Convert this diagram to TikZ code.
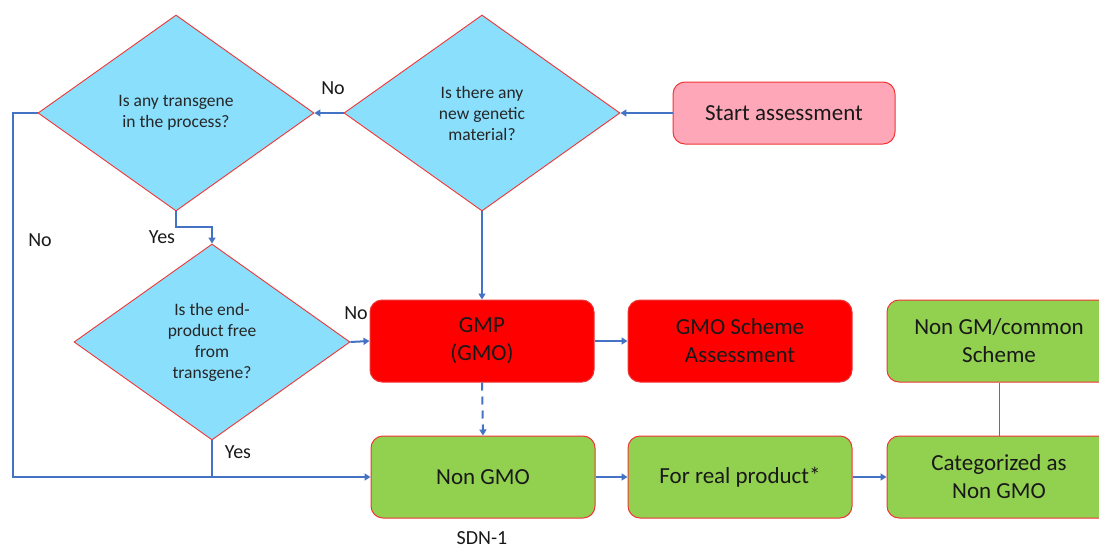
\documentclass[tikz,border=0pt]{standalone}
\usepackage{fontspec}
\setmainfont{Carlito}
\usetikzlibrary{shapes.geometric,arrows.meta}

\definecolor{qblue}{HTML}{8ADFFD}
\definecolor{startpink}{HTML}{FDA7B8}
\definecolor{gmored}{HTML}{FF0000}
\definecolor{safegreen}{HTML}{92D050}
\definecolor{linkblue}{HTML}{4472C4}
\definecolor{edgered}{HTML}{F03535}

\tikzset{
  question/.style={diamond, draw=edgered, line width=0.9pt, fill=qblue,
    minimum width=276pt, minimum height=196pt, inner sep=0pt, align=center,
    font=\fontsize{17.5}{21}\selectfont, text=black!85},
  box/.style={rectangle, rounded corners=12pt, draw=edgered, line width=1pt,
    minimum width=224pt, minimum height=82pt, inner sep=2pt, align=center,
    font=\fontsize{23}{28}\selectfont, text=black!90},
  startbox/.style={box, fill=startpink, minimum width=222pt, minimum height=62pt},
  gmobox/.style={box, fill=gmored},
  okbox/.style={box, fill=safegreen},
  link/.style={draw=linkblue, line width=2pt},
  arr/.style={link, -{Triangle[length=6pt,width=7pt]}},
  tag/.style={font=\fontsize{20}{24}\selectfont, text=black!90, inner sep=0pt},
}

\begin{document}
\begin{tikzpicture}[x=1pt, y=-1pt]
  \useasboundingbox (0,0) rectangle (1099,549);
  \clip (0,0) rectangle (1099,549);

  % decision diamonds
  \node[question] (d1) at (176,113) {Is any transgene\\in the process?};
  \node[question] (d2) at (482,113) {Is there any\\new genetic\\material?};
  \node[question] (d3) at (212,342) {Is the end-\\product free\\from\\transgene?};

  % boxes
  \node[startbox] (start) at (784,113) {Start assessment};
  \node[gmobox] (gmp) at (482,341) {GMP\\(GMO)};
  \node[gmobox] (scheme) at (740,341) {GMO Scheme\\Assessment};
  \node[okbox] (common) at (999,341) {Non GM/common\\Scheme};
  \node[okbox] (nongmo) at (483,477) {Non GMO};
  \node[okbox] (real) at (740,477) {For real product*};
  \node[okbox] (cat) at (999,477) {Categorized as\\Non GMO};

  % routing points
  \coordinate (leftrail) at (13,113);
  \coordinate (yesbend) at (176,227);

  % connectors
  \draw[arr] (start.west) -- (d2.east);
  \draw[arr] (d2.west) -- (d1.east);
  \draw[arr] (d2.south) -- (gmp.north);
  \draw[arr] (d1.south) -- (yesbend) -| (d3.north);
  \draw[arr] (d1.west) -- (leftrail) |- (nongmo.west);
  \draw[link] (d3.south) -- (d3.south |- nongmo.west);
  \draw[arr] (d3.east) -- (gmp.west);
  \draw[arr, dashed, dash pattern=on 8pt off 6pt] (gmp.south) -- (nongmo.north);
  \draw[arr] (gmp.east) -- (scheme.west);
  \draw[arr] (nongmo.east) -- (real.west);
  \draw[arr] (real.east) -- (cat.west);
  \draw[draw=linkblue, line width=1pt] (common.south) -- (cat.north);

  % branch labels
  \node[tag] (no1) at (333,88) {No};
  \node[tag] (yes1) at (162,237) {Yes};
  \node[tag] (no2) at (40,240) {No};
  \node[tag] (no3) at (356,313) {No};
  \node[tag] (yes2) at (238,452) {Yes};
  \node[tag] (sdn) at (482,538) {SDN-1};
\end{tikzpicture}
\end{document}
